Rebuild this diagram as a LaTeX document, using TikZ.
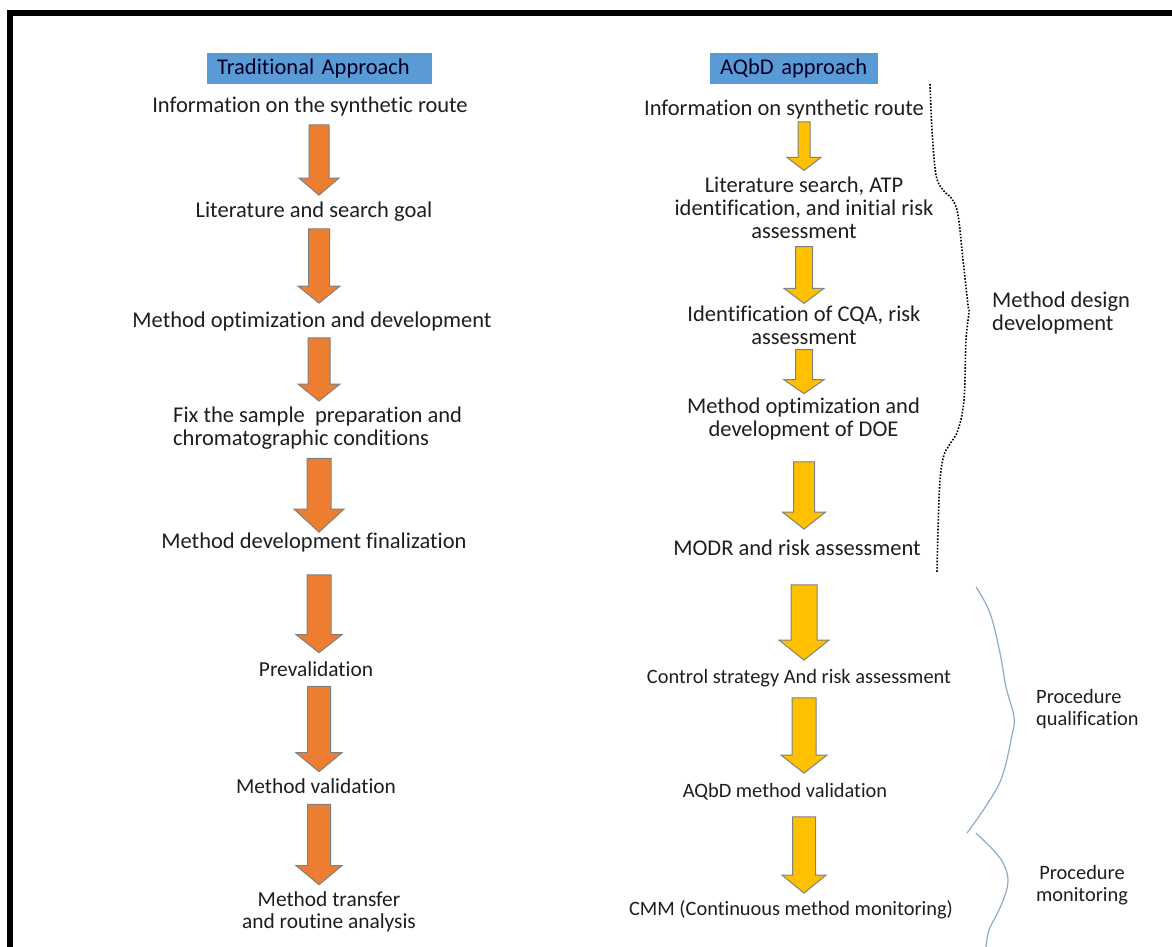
\documentclass[tikz,border=0pt]{standalone}
\usepackage{fontspec}
\setmainfont{Carlito}[Ligatures={NoCommon}]
\usetikzlibrary{calc}
\definecolor{tradorange}{HTML}{ED7D31}
\definecolor{aqbdgold}{HTML}{FFC000}
\definecolor{headblue}{HTML}{5B9BD5}
\definecolor{bracegray}{HTML}{8EA9C9}
\definecolor{inkgray}{HTML}{1E1E1E}
\tikzset{
	arrtop/.store in=\arrtop, arrtip/.store in=\arrtip,
	arrshaft/.store in=\arrshaft, arrhead/.store in=\arrhead, arrlen/.store in=\arrlen,
	arrtop=6pt, arrtip=6pt, arrshaft=12pt, arrhead=23pt, arrlen=18pt
}
\begin{document}
\begin{tikzpicture}[x=1pt,y=-1pt,line join=miter,
	every node/.style={inner sep=0pt,text=inkgray},
	big/.style={font=\fontsize{22.5}{23}\selectfont},
	mid/.style={font=\fontsize{21.4}{22}\selectfont},
	small/.style={font=\fontsize{20.4}{22}\selectfont},
	bigone/.style={big,text height=16.2pt,text depth=5.2pt},
	midone/.style={mid,text height=15.4pt,text depth=4.9pt},
	smallone/.style={small,text height=14.7pt,text depth=4.7pt},
	headbox/.style={big,fill=headblue,inner xsep=10pt,inner ysep=0pt,minimum height=31pt,align=left,anchor=north west,text=black!85!blue},
	blockarrow/.style={line width=1pt,draw=black!50,to path={
		let \p1=(\tikztostart), \p2=(\tikztotarget) in
		(\x1-\arrshaft,\y1-\arrtop) -- (\x1+\arrshaft,\y1-\arrtop)
		-- (\x1+\arrshaft,\y2+\arrtip+\arrlen) -- (\x1+\arrhead,\y2+\arrtip+\arrlen)
		-- (\x1,\y2+\arrtip) -- (\x1-\arrhead,\y2+\arrtip+\arrlen)
		-- (\x1-\arrshaft,\y2+\arrtip+\arrlen) -- cycle}},
	tradarrow/.style={blockarrow,fill=tradorange},
	aqbdarrow/.style={blockarrow,fill=aqbdgold},
	brace/.style={bracegray,line width=1.2pt}]
	\useasboundingbox (0,0) rectangle (1172,947);
	\path
	(1172,13) coordinate (F1)
	(10,13) coordinate (F2)
	(10,947) coordinate (F3)
	(319,0) coordinate (lx)
	(804,0) coordinate (rx);
	\draw[line width=6pt] (F1) -- (F2) -- (F3);
	\node[headbox,text width=205pt] (trad) at (207,53) {Traditional Approach};
	\node[headbox,text width=148pt] (aqbd) at (710,53) {AQbD approach};
	\node[bigone] (t1) at (310,107) {Information on the synthetic route};
	\node[bigone] (t2) at (314,212) {Literature and search goal};
	\node[bigone] (t3) at (312,322) {Method optimization and development};
	\node[big,align=left,anchor=west] (t4) at (173,428) {Fix the sample~ preparation and\\chromatographic conditions};
	\node[bigone] (t5) at (314,543) {Method development finalization};
	\node[midone] (t6) at (316,671) {Prevalidation};
	\node[midone] (t7) at (316,788) {Method validation};
	\node[mid,align=center] (t8) at (329,912) {Method transfer\\and routine analysis};
	\node[bigone] (r1) at (784,110) {Information on synthetic route};
	\node[big,align=center] (r2) at (804,208) {Literature search, ATP\\identification, and initial risk\\assessment};
	\node[big,align=center] (r3) at (804,325.5) {Identification of CQA, risk\\assessment};
	\node[big,align=center] (r4) at (803.5,418.5) {Method optimization and\\development of DOE};
	\node[bigone] (r5) at (797,550) {MODR and risk assessment};
	\node[smallone] (r6) at (799,678) {Control strategy And risk assessment};
	\node[smallone] (r7) at (785,792) {AQbD method validation};
	\node[smallone] (r8) at (791,910) {CMM (Continuous method monitoring)};
	\node[big,align=left,anchor=west] (design) at (992,312.5) {Method design\\development};
	\node[small,align=left,anchor=west] (qualif) at (1036,709.5) {Procedure\\qualification};
	\node[small,align=center] (monit) at (1082,885) {Procedure\\monitoring};
	\draw[tradarrow,arrtop=7pt,arrtip=6pt,arrshaft=10pt,arrhead=20pt,arrlen=17pt] (t1.south -| lx) to (t2.north -| lx);
	\draw[tradarrow,arrtop=6pt,arrtip=8pt,arrshaft=10.5pt,arrhead=21pt,arrlen=17pt] (t2.south -| lx) to (t3.north -| lx);
	\draw[tradarrow,arrtop=5pt,arrtip=5.5pt,arrshaft=11pt,arrhead=21pt,arrlen=17pt] (t3.south -| lx) to (t4.north -| lx);
	\draw[tradarrow,arrtop=9pt,arrtip=0pt,arrshaft=12pt,arrhead=25pt,arrlen=23pt] (t4.south -| lx) to (t5.north -| lx);
	\draw[tradarrow,arrtop=21pt,arrtip=8pt,arrshaft=12pt,arrhead=23pt,arrlen=18pt] (t5.south -| lx) to (t6.north -| lx);
	\draw[tradarrow,arrtop=5pt,arrtip=6pt,arrshaft=11.5pt,arrhead=23pt,arrlen=19pt] (t6.south -| lx) to (t7.north -| lx);
	\draw[tradarrow,arrtop=6pt,arrtip=7pt,arrshaft=11.5pt,arrhead=23pt,arrlen=19pt] (t7.south -| lx) to (t8.north -| lx);
	\draw[aqbdarrow,arrtop=1pt,arrtip=6.5pt,arrshaft=6pt,arrhead=17pt,arrlen=13pt] (r1.south -| rx) to (r2.north -| rx);
	\draw[aqbdarrow,arrtop=7.5pt,arrtip=2.5pt,arrshaft=8.5pt,arrhead=20pt,arrlen=15pt] (r2.south -| rx) to (r3.north -| rx);
	\draw[aqbdarrow,arrtop=4.5pt,arrtip=3.5pt,arrshaft=8.5pt,arrhead=20pt,arrlen=14pt] (r3.south -| rx) to (r4.north -| rx);
	\draw[aqbdarrow,arrtop=22pt,arrtip=10pt,arrshaft=10.5pt,arrhead=21.5pt,arrlen=17pt] (r4.south -| rx) to (r5.north -| rx);
	\draw[aqbdarrow,arrtop=24pt,arrtip=8pt,arrshaft=13pt,arrhead=25pt,arrlen=20pt] (r5.south -| rx) to (r6.north -| rx);
	\draw[aqbdarrow,arrtop=10pt,arrtip=9pt,arrshaft=12pt,arrhead=23pt,arrlen=18pt] (r6.south -| rx) to (r7.north -| rx);
	\draw[aqbdarrow,arrtop=15pt,arrtip=7pt,arrshaft=11.5pt,arrhead=22pt,arrlen=18pt] (r7.south -| rx) to (r8.north -| rx);
	\draw[line width=1.6pt,dash pattern=on 1.6pt off 1.6pt] plot[smooth,tension=0.6] coordinates {(930,84) (932,130) (936,175) (943,190) (952,199) (958,215) (963,260) (968,305) (969,312) (966,340) (964,400) (958,430) (950,444) (944,455) (940,480) (938,530) (937,572)};
	\draw[brace] plot[smooth,tension=0.6] coordinates {(976,587) (990,613) (1000,653) (1006,687) (1014,717) (1012,735) (1002,777) (986,806) (967,833)};
	\draw[brace] plot[smooth,tension=0.6] coordinates {(976,833) (996,853) (1005,867) (1008,880) (1006,892) (999,910) (989,930) (986,947)};
\end{tikzpicture}
\end{document}
